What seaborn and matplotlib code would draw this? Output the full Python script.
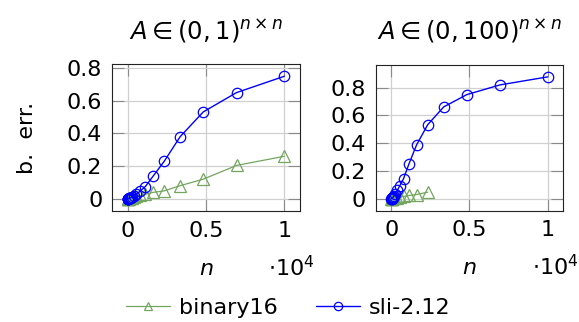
import matplotlib
matplotlib.use("Agg")
import matplotlib.pyplot as plt
import matplotlib.ticker as mticker
import numpy as np
import pandas as pd
import seaborn as sns

# ---- data ----
n_vals = [10, 15, 21, 30, 43, 61, 88, 127, 183, 264, 380, 545, 780, 1130,
          1620, 2330, 3350, 4830, 6950, 10000]

left_sli = [0, 0, 0, 0.001, 0.001, 0.002, 0.003, 0.004, 0.007, 0.011, 0.018,
            0.028, 0.045, 0.075, 0.138, 0.229, 0.38, 0.532, 0.65, 0.75]
left_b16 = [0, 0, 0, 0, 0, 0.001, 0.002, 0.003, 0.005, 0.007, 0.010, 0.014,
            0.020, 0.028, 0.039, 0.048, 0.08, 0.12, 0.204, 0.26]
right_sli = [0, 0, 0, 0.001, 0.002, 0.004, 0.007, 0.012, 0.02, 0.035, 0.058,
             0.094, 0.143, 0.251, 0.389, 0.534, 0.662, 0.751, 0.821, 0.879]
right_b16 = [0, 0, 0, 0, 0, 0, 0.001, 0.002, 0.003, 0.004, 0.007, 0.010,
             0.015, 0.022, 0.029, 0.046]

titles = [r"$A \in (0,1)^{n\times n}$", r"$A \in (0,100)^{n\times n}$"]
series_names = ["binary16", "sli-2.12"]
x_ticks = [0, 5000, 10000]
y_ticks = [0, 0.2, 0.4, 0.6, 0.8]

GREEN = "#73a65f"
BLUE = "#0000ff"

sns.set_theme(style="white")
plt.rcParams["font.family"] = ["DejaVu Sans"]
plt.rcParams["mathtext.fontset"] = "dejavusans"
plt.rcParams["font.size"] = 16
plt.rcParams["text.color"] = "black"
plt.rcParams["axes.labelcolor"] = "black"
plt.rcParams["axes.titlecolor"] = "black"

fig = plt.figure(figsize=(5.79, 3.22), dpi=100)
ax1 = fig.add_axes([112 / 579, 1 - 211 / 322, 188 / 579, 147 / 322])
ax2 = fig.add_axes([375.7 / 579, 1 - 210.7 / 322, 187.6 / 579, 146 / 322])

panels = [
    (ax1, left_b16, left_sli, (-0.075, 0.825)),
    (ax2, right_b16, right_sli, (-0.088, 0.967)),
]

for i, (ax, b16, sli, ylim) in enumerate(panels):
    d_b = pd.DataFrame({"n": n_vals[:len(b16)], "err": b16})
    d_s = pd.DataFrame({"n": n_vals[:len(sli)], "err": sli})
    sns.lineplot(data=d_b, x="n", y="err", ax=ax, color=GREEN, marker="^",
                 markersize=8, markerfacecolor="none", markeredgecolor=GREEN,
                 markeredgewidth=0.9, linewidth=0.9, label=series_names[0])
    sns.lineplot(data=d_s, x="n", y="err", ax=ax, color=BLUE, marker="o",
                 markersize=7.5, markerfacecolor="none", markeredgecolor=BLUE,
                 markeredgewidth=0.9, linewidth=1.0, label=series_names[1])
    ax.set_xlim(-1000, 11000)
    ax.set_ylim(*ylim)
    ax.set_xticks(x_ticks)
    ax.set_yticks(y_ticks)
    ax.xaxis.set_major_formatter(mticker.FuncFormatter(lambda v, p: f"{v/1e4:g}"))
    ax.yaxis.set_major_formatter(mticker.FuncFormatter(lambda v, p: f"{v:g}"))
    ax.grid(True, color="#d0d0d0", linewidth=0.9)
    ax.set_axisbelow(True)
    ax.tick_params(direction="in", length=8.5, width=0.8, color="#8a8a8a",
                   top=True, right=True, bottom=True, left=True,
                   labelsize=16, pad=7, colors="#8a8a8a", labelcolor="black")
    for s in ax.spines.values():
        s.set_color("#222222")
        s.set_linewidth(0.8)
    ax.set_title(titles[i], fontsize=17.5, pad=18, color="black")
    ax.set_xlabel(r"$n$", fontsize=16, labelpad=13, color="black")
    ax.set_ylabel("")
    ax.text(1.08, -0.385, r"$\cdot 10^4$", transform=ax.transAxes,
            ha="right", va="center", fontsize=16, color="black")
    ax.get_legend().remove()

ax1.set_ylabel("b.  err.", fontsize=16, color="black")
ax1.yaxis.set_label_coords(-0.40, 0.5)

handles, labels = ax1.get_lines()[:2], series_names
leg = fig.legend(handles, labels, loc="center", bbox_to_anchor=(0.498, 0.043),
                 ncol=2, frameon=False, fontsize=16, handlelength=2.0,
                 handletextpad=0.4, columnspacing=1.7, markerscale=0.8)
for t in leg.get_texts():
    t.set_color("black")

fig.savefig("out.png", dpi=100)
